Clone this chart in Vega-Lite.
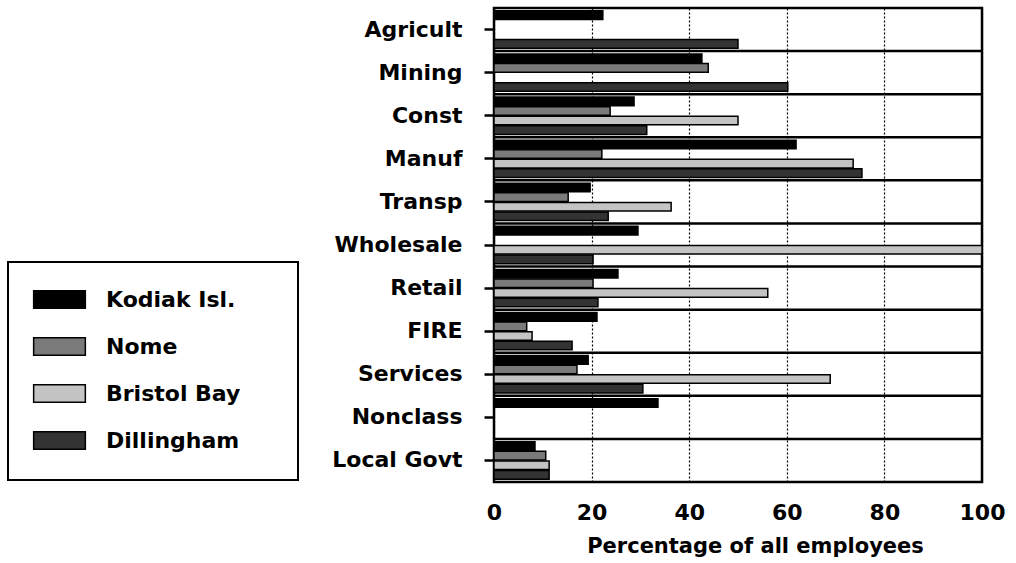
{
  "$schema": "https://vega.github.io/schema/vega-lite/v6.json",
  "autosize": {"type": "none"},
  "padding": {"left": 494, "top": 8, "right": 34, "bottom": 81},
  "width": 488,
  "height": 474,
  "background": "white",
  "config": {
    "font": "DejaVu Sans",
    "view": {"stroke": "black", "strokeWidth": 2.5},
    "axis": {"labelColor": "black", "titleColor": "black"}
  },
  "datasets": {
    "bars": [
      {"cat": "Agricult", "area": "Kodiak Isl.", "pct": 22.3},
      {"cat": "Agricult", "area": "Dillingham", "pct": 50},
      {"cat": "Mining", "area": "Kodiak Isl.", "pct": 42.6},
      {"cat": "Mining", "area": "Nome", "pct": 43.9},
      {"cat": "Mining", "area": "Dillingham", "pct": 60.2},
      {"cat": "Const", "area": "Kodiak Isl.", "pct": 28.7},
      {"cat": "Const", "area": "Nome", "pct": 23.8},
      {"cat": "Const", "area": "Bristol Bay", "pct": 50},
      {"cat": "Const", "area": "Dillingham", "pct": 31.3},
      {"cat": "Manuf", "area": "Kodiak Isl.", "pct": 61.9},
      {"cat": "Manuf", "area": "Nome", "pct": 22.1},
      {"cat": "Manuf", "area": "Bristol Bay", "pct": 73.6},
      {"cat": "Manuf", "area": "Dillingham", "pct": 75.4},
      {"cat": "Transp", "area": "Kodiak Isl.", "pct": 19.7},
      {"cat": "Transp", "area": "Nome", "pct": 15.2},
      {"cat": "Transp", "area": "Bristol Bay", "pct": 36.3},
      {"cat": "Transp", "area": "Dillingham", "pct": 23.4},
      {"cat": "Wholesale", "area": "Kodiak Isl.", "pct": 29.5},
      {"cat": "Wholesale", "area": "Bristol Bay", "pct": 100},
      {"cat": "Wholesale", "area": "Dillingham", "pct": 20.3},
      {"cat": "Retail", "area": "Kodiak Isl.", "pct": 25.4},
      {"cat": "Retail", "area": "Nome", "pct": 20.3},
      {"cat": "Retail", "area": "Bristol Bay", "pct": 56.1},
      {"cat": "Retail", "area": "Dillingham", "pct": 21.3},
      {"cat": "FIRE", "area": "Kodiak Isl.", "pct": 21.1},
      {"cat": "FIRE", "area": "Nome", "pct": 6.7},
      {"cat": "FIRE", "area": "Bristol Bay", "pct": 7.8},
      {"cat": "FIRE", "area": "Dillingham", "pct": 16},
      {"cat": "Services", "area": "Kodiak Isl.", "pct": 19.3},
      {"cat": "Services", "area": "Nome", "pct": 17},
      {"cat": "Services", "area": "Bristol Bay", "pct": 68.9},
      {"cat": "Services", "area": "Dillingham", "pct": 30.5},
      {"cat": "Nonclass", "area": "Kodiak Isl.", "pct": 33.6},
      {"cat": "Local Govt", "area": "Kodiak Isl.", "pct": 8.4},
      {"cat": "Local Govt", "area": "Nome", "pct": 10.6},
      {"cat": "Local Govt", "area": "Bristol Bay", "pct": 11.3},
      {"cat": "Local Govt", "area": "Dillingham", "pct": 11.3}
    ],
    "seps": [
      {"cat": "Mining"}, {"cat": "Const"}, {"cat": "Manuf"}, {"cat": "Transp"},
      {"cat": "Wholesale"}, {"cat": "Retail"}, {"cat": "FIRE"}, {"cat": "Services"},
      {"cat": "Nonclass"}, {"cat": "Local Govt"}
    ]
  },
  "layer": [
    {
      "data": {"name": "bars"},
      "mark": {"type": "bar", "stroke": "black", "strokeWidth": 1.5},
      "encoding": {
        "y": {
          "field": "cat", "type": "nominal", "title": null,
          "scale": {"domain": ["Agricult", "Mining", "Const", "Manuf", "Transp", "Wholesale", "Retail", "FIRE", "Services", "Nonclass", "Local Govt"], "paddingInner": 0, "paddingOuter": 0},
          "axis": {"domain": false, "grid": false, "tickSize": 10, "tickWidth": 2.5, "tickColor": "black", "labelFontSize": 22, "labelFontWeight": "bold", "labelPadding": 22, "labelColor": "black"}
        },
        "yOffset": {
          "field": "area", "type": "nominal",
          "scale": {"domain": ["Kodiak Isl.", "Nome", "Bristol Bay", "Dillingham"], "paddingInner": 0.1, "paddingOuter": 0.3}
        },
        "x": {
          "field": "pct", "type": "quantitative",
          "scale": {"domain": [0, 100], "nice": false},
          "axis": {"values": [0, 20, 40, 60, 80, 100], "domain": false, "ticks": false, "grid": true, "gridColor": "black", "gridDash": [2, 2], "gridWidth": 1.2, "gridOpacity": 1, "labelFontSize": 22, "labelFontWeight": "bold", "labelPadding": 20, "labelColor": "black", "labelFlush": false, "title": "Percentage of all employees", "titleFontSize": 21, "titleFontWeight": "bold", "titleColor": "black", "titlePadding": 12, "titleX": 261}
        },
        "color": {
          "field": "area", "type": "nominal",
          "scale": {"domain": ["Kodiak Isl.", "Nome", "Bristol Bay", "Dillingham"], "range": ["#000000", "#7a7a7a", "#c4c4c4", "#333333"]},
          "legend": {
            "title": "-----------------------------------------------------",
            "titleOrient": "bottom", "titleFontSize": 12, "titlePadding": 4, "titleLimit": 1000, "titleColor": "white",
            "orient": "none", "legendX": -486, "legendY": 254,
            "padding": 13, "symbolOffset": 14,
            "strokeColor": "black",
            "symbolType": "M-1.1,-0.37H1.1V0.37H-1.1Z", "symbolSize": 2209,
            "symbolStrokeColor": "black", "symbolStrokeWidth": 1.5,
            "rowPadding": 10, "labelOffset": 22,
            "labelFontSize": 22, "labelFontWeight": "bold", "labelColor": "black", "labelLimit": 300,
            "encode": {"legend": {"update": {"strokeWidth": {"value": 2}}}}
          }
        }
      }
    },
    {
      "data": {"name": "seps"},
      "mark": {"type": "rule", "color": "black", "strokeWidth": 2.5},
      "encoding": {
        "y": {
          "field": "cat", "type": "nominal", "bandPosition": 0, "title": null,
          "scale": {"domain": ["Agricult", "Mining", "Const", "Manuf", "Transp", "Wholesale", "Retail", "FIRE", "Services", "Nonclass", "Local Govt"], "paddingInner": 0, "paddingOuter": 0}
        }
      }
    }
  ]
}
